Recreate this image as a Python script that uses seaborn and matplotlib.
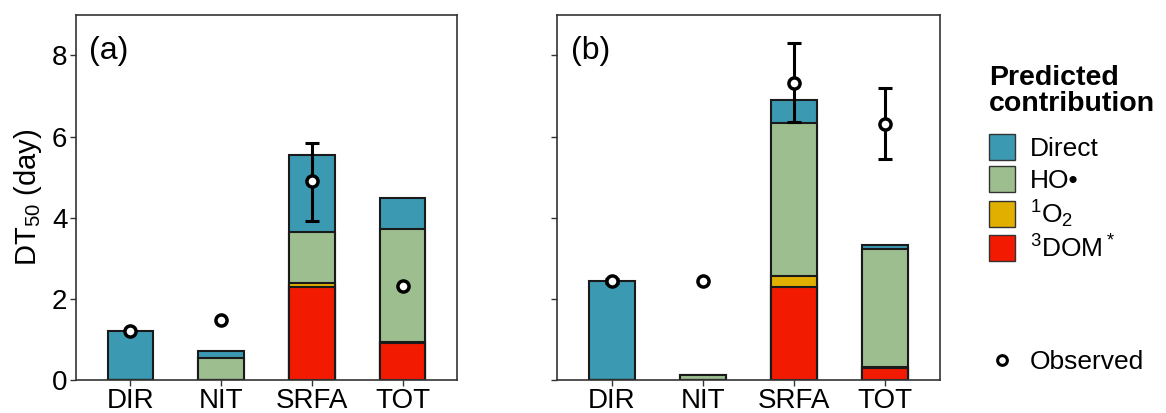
import numpy as np
import pandas as pd
import seaborn as sns
import matplotlib.pyplot as plt
from matplotlib.patches import Patch
from matplotlib.lines import Line2D

categories = ["DIR", "NIT", "SRFA", "TOT"]
components = ["Direct", "HO•", "1O2", "3DOM*"]
comp_labels = ["Direct", "HO•", r"$\mathregular{^1O_2}$", r"$\mathregular{^3DOM^*}$"]
colors = ["#3B9AB2", "#9DBE8F", "#E1AF00", "#F21A00"]

# panel (a): predicted contribution per component (day)
a_direct = [1.20, 0.19, 1.90, 0.76]
a_ho = [0.00, 0.53, 1.24, 2.79]
a_o2 = [0.00, 0.00, 0.10, 0.02]
a_dom = [0.00, 0.00, 2.30, 0.91]
a_obs = [1.20, 1.47, 4.90, 2.32]
a_lo = [np.nan, np.nan, 3.93, np.nan]
a_hi = [np.nan, np.nan, 5.84, np.nan]

# panel (b)
b_direct = [2.44, 0.00, 0.56, 0.10]
b_ho = [0.00, 0.12, 3.77, 2.90]
b_o2 = [0.00, 0.00, 0.28, 0.03]
b_dom = [0.00, 0.00, 2.29, 0.30]
b_obs = [2.44, 2.43, 7.33, 6.32]
b_lo = [2.38, np.nan, 6.37, 5.45]
b_hi = [2.50, np.nan, 8.30, 7.20]

plt.rcParams["font.family"] = ["Liberation Sans", "DejaVu Sans"]
plt.rcParams["mathtext.fontset"] = "custom"
plt.rcParams["mathtext.rm"] = "Liberation Sans"

fig = plt.figure(figsize=(11.66, 4.13), dpi=100)
ax_a = fig.add_axes([0.065, 0.080, 0.327, 0.884])
ax_b = fig.add_axes([0.478, 0.080, 0.328, 0.884])


def draw_panel(ax, layers, obs, lo, hi, tag, show_labels):
    df = pd.DataFrame({"cat": categories})
    # stack from top down: draw cumulative totals, biggest first
    cum = np.zeros(len(categories))
    stacks = []
    for vals in layers[::-1]:
        cum = cum + np.array(vals)
        stacks.append(cum.copy())
    stacks = stacks[::-1]
    for col, top in zip(colors, stacks):
        df["h"] = top
        sns.barplot(data=df, x="cat", y="h", color=col, saturation=1,
                    width=0.5, edgecolor="#1a1a1a", linewidth=1.5, ax=ax,
                    order=categories)
    xs = np.arange(len(categories))
    obs = np.array(obs)
    lo = np.array(lo)
    hi = np.array(hi)
    err = np.vstack([obs - lo, hi - obs])
    ax.errorbar(xs, obs, yerr=err, fmt="none", ecolor="black", elinewidth=2.2,
                capsize=5, capthick=2.2, zorder=4)
    ax.plot(xs, obs, "o", ms=8, mfc="white", mec="black", mew=2.5, zorder=5,
            linestyle="none")
    ax.set_xlim(-0.6, 3.6)
    ax.set_ylim(0, 9)
    ax.set_yticks([0, 2, 4, 6, 8])
    ax.set_xlabel("")
    ax.set_ylabel("DT$_{50}$ (day)" if show_labels else "", fontsize=21,
                  labelpad=6)
    if not show_labels:
        ax.set_yticklabels([])
    ax.tick_params(labelsize=20, length=4, width=1, color="#333333", pad=2)
    for s in ax.spines.values():
        s.set_color("#333333")
        s.set_linewidth(1.2)
    ax.text(-0.45, 8.1, tag, fontsize=23, va="center", ha="left")


draw_panel(ax_a, [a_direct, a_ho, a_o2, a_dom], a_obs, a_lo, a_hi, "(a)", True)
draw_panel(ax_b, [b_direct, b_ho, b_o2, b_dom], b_obs, b_lo, b_hi, "(b)", False)

# legend title drawn separately so its gap to the entries can be set
fig.text(0.848, 0.842, "Predicted\ncontribution", fontsize=20.5,
         fontweight="bold", va="top", ha="left", linespacing=1.0)

handles = [Patch(facecolor=c, edgecolor="#333333", linewidth=1) for c in colors]
fig.legend(handles, comp_labels, loc="upper left",
           bbox_to_anchor=(0.848, 0.676), frameon=False, fontsize=19,
           handlelength=1.0, handleheight=1.15, labelspacing=0.2,
           handletextpad=0.55, borderpad=0, borderaxespad=0)

obs_handle = Line2D([], [], marker="o", ms=7, mfc="white", mec="black", mew=2.2,
                    linestyle="none")
fig.legend([obs_handle], ["Observed"], loc="center left",
           bbox_to_anchor=(0.848, 0.123), frameon=False, fontsize=19,
           handlelength=1.0, handletextpad=0.55, borderpad=0, borderaxespad=0)

fig.savefig("out.png", dpi=100)
